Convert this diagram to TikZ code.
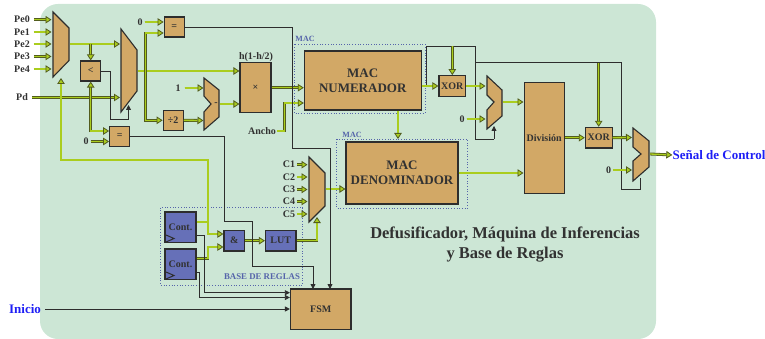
\documentclass[tikz,border=0pt]{standalone}
\usepackage{fontspec}
\setmainfont{Liberation Serif}
\usetikzlibrary{arrows.meta}
\definecolor{panelgreen}{RGB}{204,230,213}
\definecolor{blocktan}{RGB}{210,168,102}
\definecolor{blockblue}{RGB}{102,112,184}
\definecolor{busdark}{RGB}{82,92,30}
\definecolor{buslime}{RGB}{170,205,30}
\definecolor{wiredark}{RGB}{45,45,45}
\definecolor{dotblue}{RGB}{85,100,170}
\definecolor{labelblue}{RGB}{30,30,245}
\definecolor{labeldark}{RGB}{50,50,50}
\begin{document}
\begin{tikzpicture}[
    x=1pt, y=-1pt,
    block/.style={draw=wiredark, line width=1.1pt, fill=#1, minimum width=20pt, minimum height=20pt, inner sep=0pt, align=center, text=labeldark, font=\fontsize{10}{11}\selectfont\bfseries},
    muxbox/.style={draw=wiredark, line width=1.1pt, fill=blocktan, line join=miter},
    tag/.style={text=labeldark, inner sep=1pt, font=\fontsize{10}{11}\selectfont\bfseries},
    bus/.style={draw=busdark, double=buslime, double distance=1.3pt, line width=0.8pt, -{Triangle[length=6pt, width=7.5pt, fill=buslime, color=busdark, line width=0.8pt]}},
    wire/.style={draw=wiredark, line width=0.8pt, -{Triangle[length=5pt, width=5pt]}},
    plainwire/.style={draw=wiredark, line width=0.8pt},
    dotbox/.style={draw=dotblue, dotted, line width=0.7pt},
    bluetag/.style={text=dotblue, inner sep=0pt, font=\fontsize{#1}{10}\selectfont\bfseries}
]
    \useasboundingbox (0,0) rectangle (765,339);

    % Panel
    \fill[panelgreen, rounded corners=18pt] (40,4) rectangle (656,339);

    % Dotted groups
    \draw[dotbox] (294,44.5) rectangle (425,113);
    \draw[dotbox] (336.5,139) rectangle (467.5,208);
    \draw[dotbox] (160,207.5) rectangle (302.5,285);

    % Multiplexers
    \draw[muxbox] (53,12) -- (69,28) -- (69,60.5) -- (53,77) -- cycle;
    \draw[muxbox] (121,29) -- (137,50) -- (137,91) -- (121,112) -- cycle;
    \draw[muxbox] (204,78) -- (219,90) -- (219,117) -- (204,130) -- (204,112) -- (211,104) -- (204,96) -- cycle;
    \draw[muxbox] (309,157) -- (325,173) -- (325,206) -- (309,222) -- cycle;
    \draw[muxbox] (487,76) -- (502,90) -- (502,116) -- (487,129) -- (487,110) -- (494,102) -- (487,95) -- cycle;
    \draw[muxbox] (633,128) -- (649,141) -- (649,167) -- (633,181) -- (633,161) -- (641,154) -- (633,147) -- cycle;

    % Mux ports
    \coordinate (mux1out) at (70,44);
    \coordinate (mux1sel) at (61,78);
    \coordinate (mux2in) at (120,44);
    \coordinate (mux2pd) at (120,97.5);
    \coordinate (mux2sel) at (128.5,105);
    \coordinate (mux2out) at (138,71);
    \coordinate (mux4in) at (203.5,88);
    \coordinate (mux4low) at (203.5,120.5);
    \coordinate (mux4out) at (220,104);
    \coordinate (mux3in) at (307.5,0);
    \coordinate (mux3sel) at (317,217);
    \coordinate (mux3out) at (326,189);
    \coordinate (mux5up) at (485.5,86);
    \coordinate (mux5low) at (485.5,119);
    \coordinate (mux5sel) at (494,126);
    \coordinate (mux5out) at (503,102);
    \coordinate (mux6up) at (632,137.5);
    \coordinate (mux6low) at (632,170);
    \coordinate (mux6sel) at (640,178);
    \coordinate (mux6out) at (650,154);

    % Orange blocks
    \node[block=blocktan] (eqtop) at (174.2,27) {=};
    \node[block=blocktan] (less) at (90.7,71) {<};
    \node[block=blocktan] (eqlow) at (119.7,136.5) {=};
    \node[block=blocktan] (half) at (173.2,120.3) {÷2};
    \node[block=blocktan, minimum width=31pt, minimum height=50.5pt] (prod) at (255.5,87.7) {×};
    \node[block=blocktan, minimum width=116.7pt, minimum height=59pt, font=\fontsize{13}{15}\selectfont\bfseries] (macnum) at (362.7,80.5) {MAC\\NUMERADOR};
    \node[block=blocktan, minimum width=112pt, minimum height=62pt, font=\fontsize{13}{15}\selectfont\bfseries] (macden) at (402,173) {MAC\\DENOMINADOR};
    \node[block=blocktan, minimum width=26.7pt, minimum height=20.6pt] (xornum) at (452.3,86) {XOR};
    \node[block=blocktan, minimum width=40.3pt, minimum height=111pt] (divis) at (544.2,137.8) {División};
    \node[block=blocktan, minimum width=26.7pt, minimum height=20.7pt] (xorout) at (598.7,137.7) {XOR};
    \node[block=blocktan, minimum width=60.5pt, minimum height=40.5pt] (fsm) at (320.7,309.2) {FSM};

    % Blue blocks
    \node[block=blockblue, minimum width=31pt, minimum height=30.5pt] (contup) at (180.5,227.2) {Cont.};
    \node[block=blockblue, minimum width=31pt, minimum height=30.5pt] (contlow) at (180.5,264.2) {Cont.};
    \node[block=blockblue, minimum width=20.5pt, minimum height=20.5pt] (andgate) at (234.2,240.7) {\&};
    \node[block=blockblue, minimum width=30.5pt, minimum height=20.5pt] (lut) at (280.7,240.7) {LUT};
    \draw[plainwire, line width=1pt] (166,235) -- (174,238.5) -- (166,242);
    \draw[plainwire, line width=1pt] (166,272) -- (174,275.5) -- (166,279);

    % Labels
    \node[tag] (pe0) at (22,19.7) {Pe0};
    \node[tag] (pe1) at (22,32) {Pe1};
    \node[tag] (pe2) at (22,44) {Pe2};
    \node[tag] (pe3) at (22,56.5) {Pe3};
    \node[tag] (pe4) at (22,69) {Pe4};
    \node[tag] (pd) at (22,97.5) {Pd};
    \node[tag] (zerotop) at (140,22) {0};
    \node[tag] (zerolow) at (86,141.5) {0};
    \node[tag] (onesub) at (178,88) {1};
    \node[tag] (zeromid) at (462,119) {0};
    \node[tag] (zeroout) at (608.5,170) {0};
    \node[tag] (hlabel) at (256,57) {h(1-h/2)};
    \node[tag] (ancho) at (262,131) {Ancho};
    \node[tag] (minus) at (216,104) {-};
    \node[tag] (c1) at (289,164.7) {C1};
    \node[tag] (c2) at (289,177) {C2};
    \node[tag] (c3) at (289,189.5) {C3};
    \node[tag] (c4) at (289,201.5) {C4};
    \node[tag] (c5) at (289,214) {C5};
    \node[bluetag=8] (macup) at (305,39) {MAC};
    \node[bluetag=8] (maclow) at (352,135) {MAC};
    \node[bluetag=8.8] (rules) at (262,277) {BASE DE REGLAS};
    \node[inner sep=0pt, text=labelblue, font=\fontsize{13}{15}\selectfont\bfseries] (inicio) at (25,309) {Inicio};
    \node[inner sep=0pt, text=labelblue, font=\fontsize{13}{15}\selectfont\bfseries] (salida) at (719,155) {Señal de Control};
    \node[text=labeldark, align=center, inner sep=0pt, font=\fontsize{16.5}{20}\selectfont\bfseries] (title) at (505,245) {Defusificador, Máquina de Inferencias\\y Base de Reglas};

    % Bus inputs
    \foreach \n in {pe0,pe1,pe2,pe3,pe4}
        \draw[bus] (\n.east) ++(3,0) -- (\n -| 51.5,0);
    \foreach \n in {c1,c2,c3,c4,c5}
        \draw[bus] (\n.east) ++(1,0) -- (\n -| mux3in);

    % Left side
    \draw[bus] (mux1out) -- (mux2in);
    \draw[bus] (less.north |- mux1out) -- (less.north);
    \draw[bus] (pd.east) ++(3,0) -- (mux2pd);
    \draw[bus] (less.south |- mux2pd) -- (less.south);
    \draw[bus] (less.south |- mux2pd) |- (eqlow.west |- 0,131);
    \draw[bus] (zerolow.east) ++(1,0) -- (eqlow.west |- zerolow);
    \draw[wire] (less.east) -| (110,119) -| (mux2sel);

    % Middle
    \draw[bus] (mux2out) -- (prod.west |- mux2out);
    \draw[bus] (145.5,71) |- (eqtop.west |- 0,33);
    \draw[bus] (145.5,71) |- (half.west);
    \draw[bus] (zerotop.east) ++(1,0) -- (eqtop.west |- zerotop);
    \draw[bus] (onesub.east) ++(3,0) -- (mux4in);
    \draw[bus] (half.east) -- (mux4low);
    \draw[bus] (mux4out) -- (prod.west |- mux4out);
    \draw[bus] (prod.east) -- (macnum.west |- prod.east);
    \draw[bus] (ancho.east) -- (284.5,131) |- (macnum.west |- 0,103);

    % MAC stage
    \draw[bus] (macnum.south -| 398,0) -- (398,139);
    \draw[bus] (mux3out) -- (macden.west |- mux3out);
    \draw[bus] (macnum.east |- xornum) -- (xornum.west);
    \draw[plainwire] (426.7,85) |- (475.7,46) |- (494,139);
    \draw[wire] (494,139) -- (mux5sel);
    \draw[bus] (452.3,46) -- (xornum.north);
    \draw[bus] (xornum.east) -- (mux5up);
    \draw[bus] (zeromid.east) ++(1,0) -- (mux5low);
    \draw[bus] (mux5out) -- (divis.west |- mux5out);
    \draw[bus] (macden.east) -- (divis.west |- macden.east);
    \draw[bus] (divis.east |- xorout) -- (xorout.west);
    \draw[plainwire] (475.7,62.7) -| (621.7,189) -| (mux6sel);
    \draw[bus] (598.7,62.7) -- (xorout.north);
    \draw[bus] (xorout.east) -- (mux6up);
    \draw[bus] (zeroout.east) ++(1,0) -- (mux6low);
    \draw[bus] (mux6out) -- (salida.west);

    % Rule base
    \draw[bus] (contup.east |- 0,222) -| (208,160) -| (mux1sel);
    \draw[bus] (208,222) |- (andgate.west |- 0,234);
    \draw[bus] (contlow.east |- 0,258.5) -| (208,247) -- (andgate.west |- 0,247);
    \draw[bus] (andgate.east) -- (lut.west);
    \draw[bus] (lut.east) -| (mux3sel);
    \draw[wire] (contup.east |- 0,235) -| (204,292.7) -- (fsm.west |- 0,292.7);
    \draw[wire] (contlow.east |- 0,272) -| (199.5,297.5) -- (fsm.west |- 0,297.5);
    \draw[wire, line width=1pt] (inicio.east) ++(4,0) -- (fsm.west |- inicio);

    % Comparison wires
    \draw[wire] (eqlow.east) -| (224,221.7) -| (252,266) -| (313,289);
    \draw[wire] (eqtop.east) -| (292,148) -| (330,289);
\end{tikzpicture}
\end{document}
